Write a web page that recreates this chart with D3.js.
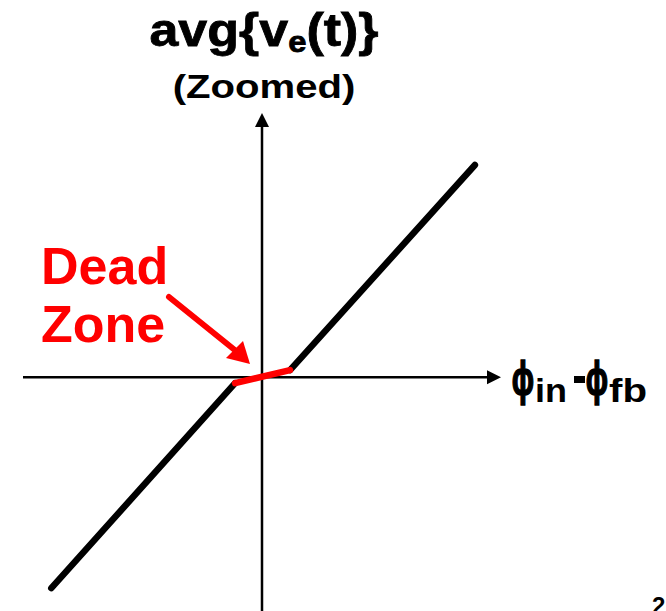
<!DOCTYPE html>
<html>
<head>
<meta charset="utf-8">
<script src="https://cdn.jsdelivr.net/npm/d3@7/dist/d3.min.js"></script>
<style>
  html, body { margin: 0; padding: 0; background: #fff; }
  svg { display: block; }
  text { font-family: "Liberation Sans", Arial, sans-serif; font-weight: bold; }
</style>
</head>
<body>
<script>
// ---- data ----
const phaseDiff = [-7.67, -0.98, 1.02, 7.75];    // x: phi_in - phi_fb (arbitrary units)
const avgVe     = [-7.67, -0.22, 0.255, 7.71];   // y: avg{v_e(t)} (zoomed)
const deadZoneIdx = [1, 2];                      // segment drawn in red
const titleMain = "avg{v";
const titleSub = "e";
const titleTail = "(t)}";
const subtitle = "(Zoomed)";
const deadLabel = ["Dead", "Zone"];
const xLabelPhi = "\u03D5";
const xLabelSub = ["in", "fb"];
const pageNum = "2";

const W = 666, H = 611;
const svg = d3.select("body").append("svg").attr("width", W).attr("height", H);

const x = d3.scaleLinear().domain([-8.7, 8.7]).range([23, 501]);
const y = d3.scaleLinear().domain([-8.5, 9.6]).range([611, 113]);

const pts = phaseDiff.map((v, i) => [v, avgVe[i]]);
const line = d3.line().x(d => x(d[0])).y(d => y(d[1]));

// axes
const ax = svg.append("g");
ax.append("line").attr("x1", x(-8.7)).attr("x2", x(8.7) - 10)
  .attr("y1", y(0)).attr("y2", y(0)).attr("stroke", "#000").attr("stroke-width", 2.5);
ax.append("path")
  .attr("d", `M${x(8.7)},${y(0)} L${x(8.7) - 14},${y(0) - 7} L${x(8.7) - 14},${y(0) + 7} Z`)
  .attr("fill", "#000");
ax.append("line").attr("x1", x(0)).attr("x2", x(0))
  .attr("y1", y(-8.5)).attr("y2", y(9.6) + 10).attr("stroke", "#000").attr("stroke-width", 2.5);
ax.append("path")
  .attr("d", `M${x(0)},${y(9.6)} L${x(0) - 7},${y(9.6) + 14} L${x(0) + 7},${y(9.6) + 14} Z`)
  .attr("fill", "#000");

// black characteristic segments
svg.append("path").datum(pts.slice(0, 2)).attr("d", line)
  .attr("fill", "none").attr("stroke", "#000").attr("stroke-width", 6.5).attr("stroke-linecap", "round");
svg.append("path").datum(pts.slice(2, 4)).attr("d", line)
  .attr("fill", "none").attr("stroke", "#000").attr("stroke-width", 6.5).attr("stroke-linecap", "round");
// dead zone (red)
svg.append("path").datum(deadZoneIdx.map(i => pts[i])).attr("d", line)
  .attr("fill", "none").attr("stroke", "#ff0000").attr("stroke-width", 6.5).attr("stroke-linecap", "round");

// title
const t1 = svg.append("text").attr("transform", "translate(264,46) scale(1.13,1)")
  .attr("text-anchor", "middle").attr("font-size", 46).attr("fill", "#000")
  .attr("stroke", "#000").attr("stroke-width", 0.8);
t1.append("tspan").text(titleMain);
t1.append("tspan").attr("font-size", 29).attr("dy", 6).text(titleSub);
t1.append("tspan").attr("dy", -6).text(titleTail);

svg.append("text").attr("transform", "translate(264,98) scale(1.18,1)")
  .attr("text-anchor", "middle").attr("font-size", 34).attr("fill", "#000").text(subtitle);

// Dead Zone label
svg.append("text").attr("x", 41).attr("y", 284).attr("font-size", 52).attr("fill", "#ff0000").text(deadLabel[0]);
svg.append("text").attr("x", 41).attr("y", 342).attr("font-size", 52).attr("fill", "#ff0000").text(deadLabel[1]);

// red arrow
svg.append("line").attr("x1", 169).attr("y1", 297).attr("x2", 236).attr("y2", 351)
  .attr("stroke", "#ff0000").attr("stroke-width", 6).attr("stroke-linecap", "round");
svg.append("path").attr("d", "M250,364 L226,358 L243,341 Z").attr("fill", "#ff0000");

// x label
function phi(cx) {
  svg.append("text").attr("x", 0).attr("y", 0).attr("text-anchor", "middle")
    .attr("font-size", 48).attr("font-family", "DejaVu Sans").attr("fill", "#000")
    .attr("stroke", "#000").attr("stroke-width", 1.6)
    .attr("transform", `translate(${cx},395) scale(0.62,1)`).text(xLabelPhi);
}
phi(523);
svg.append("text").attr("x", 535).attr("y", 402).attr("font-size", 33).attr("fill", "#000")
  .attr("textLength", 32).attr("lengthAdjust", "spacingAndGlyphs").text(xLabelSub[0]);
svg.append("rect").attr("x", 574).attr("y", 376).attr("width", 11).attr("height", 7).attr("fill", "#000");
phi(597);
svg.append("text").attr("x", 609).attr("y", 402).attr("font-size", 33).attr("fill", "#000")
  .attr("textLength", 38).attr("lengthAdjust", "spacingAndGlyphs").text(xLabelSub[1]);

// page number (cut off at the bottom edge, as in the source slide)
svg.append("text").attr("x", 652).attr("y", 614).attr("font-size", 24).attr("font-weight", "normal")
  .attr("fill", "#000").text(pageNum);
</script>
</body>
</html>
